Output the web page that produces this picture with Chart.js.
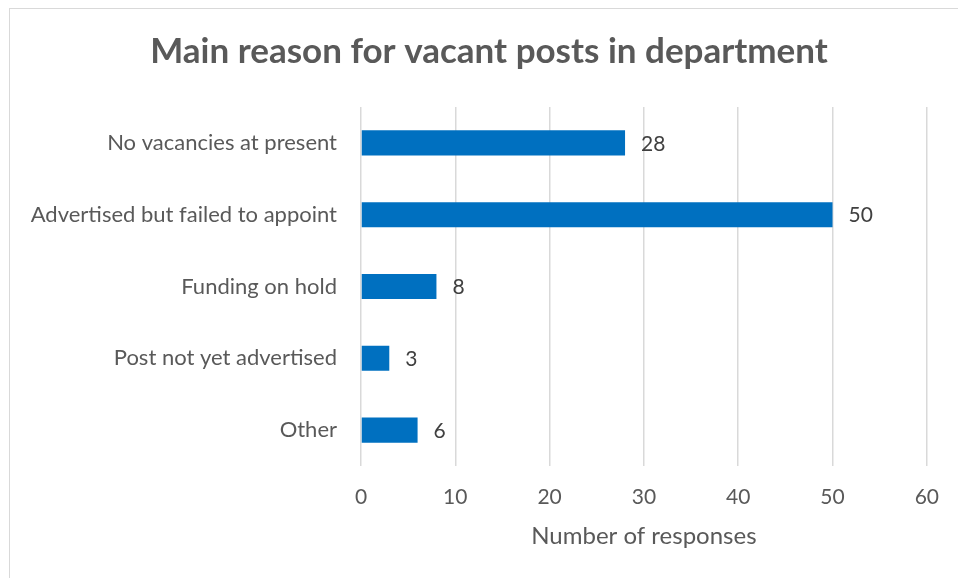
<!DOCTYPE html>
<html>
<head>
<meta charset="utf-8">
<script src="https://cdn.jsdelivr.net/npm/chart.js@4"></script>
<style>
  html, body { margin: 0; padding: 0; background: #ffffff; }
  body { width: 958px; height: 578px; position: relative; overflow: hidden; }
  #frame {
    position: absolute; left: 9px; top: 8px; width: 960px; height: 580px;
    border: 1.5px solid #d9d9d9; box-sizing: border-box;
  }
  #chart { position: absolute; left: 0; top: 0; }
</style>
</head>
<body>
<div id="frame"></div>
<canvas id="chart" width="958" height="578"></canvas>
<script>
const chartTitle = 'Main reason for vacant posts in department';
const categories = [
  'No vacancies at present',
  'Advertised but failed to appoint',
  'Funding on hold',
  'Post not yet advertised',
  'Other'
];
const responses = [28, 50, 8, 3, 6];
const axisTicks = [0, 10, 20, 30, 40, 50, 60];

const FONT = 'Lato, "Open Sans", sans-serif';

// Heading centred over the framed area, above the plot
const heading = {
  id: 'heading',
  afterDraw(chart) {
    const ctx = chart.ctx;
    ctx.save();
    ctx.font = 'bold 35px ' + FONT;
    ctx.fillStyle = '#595959';
    ctx.textAlign = 'center';
    ctx.textBaseline = 'middle';
    ctx.fillText(chartTitle, 489, 52);
    ctx.restore();
  }
};

// Writes each bar's value just past its end
const valueLabels = {
  id: 'valueLabels',
  afterDatasetsDraw(chart) {
    const ctx = chart.ctx;
    const meta = chart.getDatasetMeta(0);
    ctx.save();
    ctx.font = '21px ' + FONT;
    ctx.fillStyle = '#404040';
    ctx.textAlign = 'left';
    ctx.textBaseline = 'middle';
    meta.data.forEach((bar, i) => {
      ctx.fillText(String(chart.data.datasets[0].data[i]), bar.x + 16, bar.y + 1);
    });
    ctx.restore();
  }
};

new Chart(document.getElementById('chart'), {
  type: 'bar',
  data: {
    labels: categories,
    datasets: [{
      data: responses,
      backgroundColor: '#0070C0',
      borderWidth: 0,
      categoryPercentage: 1,
      barPercentage: 0.35
    }]
  },
  options: {
    indexAxis: 'y',
    responsive: false,
    maintainAspectRatio: false,
    animation: false,
    devicePixelRatio: 1,
    layout: { padding: { left: 0, right: 28, top: 107, bottom: 0 } },
    plugins: {
      legend: { display: false },
      tooltip: { enabled: false },
      title: { display: false }
    },
    scales: {
      x: {
        min: 0,
        max: 60,
        afterBuildTicks(scale) {
          scale.ticks = axisTicks.map(v => ({ value: v }));
        },
        afterFit(scale) { scale.height = 112; },
        grid: { color: '#d9d9d9', lineWidth: 1.5, drawTicks: false },
        border: { display: false },
        ticks: {
          color: '#595959',
          font: { family: FONT, size: 21 },
          padding: 19,
          maxRotation: 0,
          minRotation: 0
        },
        title: {
          display: true,
          text: 'Number of responses',
          color: '#595959',
          font: { family: FONT, size: 24 },
          padding: { top: 10, bottom: 27 }
        }
      },
      y: {
        afterFit(scale) { scale.width = 361; },
        grid: { display: false },
        border: { display: false },
        ticks: {
          color: '#595959',
          font: { family: FONT, size: 22 },
          padding: 16
        }
      }
    }
  },
  plugins: [valueLabels, heading]
});
</script>
</body>
</html>
